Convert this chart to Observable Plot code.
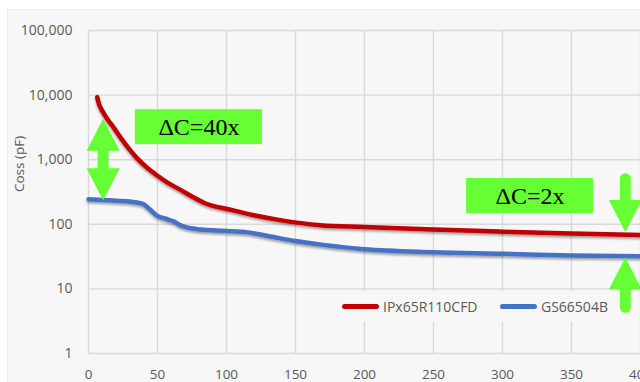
<!DOCTYPE html>
<html><head><meta charset="utf-8">
<script src="https://cdn.jsdelivr.net/npm/d3@7"></script>
<script src="https://cdn.jsdelivr.net/npm/@observablehq/plot@0.6"></script>
<style>
body{margin:0;background:#fff;}
#wrap{position:relative;width:640px;height:382px;overflow:hidden;background:#fff;}
#panel{position:absolute;left:7px;top:9px;right:0;bottom:0;background:#f7f7f7;border-left:1px solid #ececec;border-top:1px solid #efefef;}
#chart{position:absolute;left:0;top:0;}
#legend{position:absolute;left:334px;top:291px;width:282px;height:31px;background:#f7f7f7;}
.item{position:absolute;top:0;height:31px;display:flex;align-items:center;font:14px "Open Sans";color:#595959;white-space:nowrap;}
.sw{display:inline-block;width:37px;height:5px;border-radius:3px;margin-right:4px;}
</style></head>
<body>
<div id="wrap"><div id="panel"></div><div id="chart"></div>
<div id="legend">
  <div class="item" style="left:8px"><span class="sw" style="background:#c00000"></span>IPx65R110CFD</div>
  <div class="item" style="left:166px"><span class="sw" style="background:#4472c4"></span>GS66504B</div>
</div>
</div>
<script>
// ---- data ----
const xTicks = [0, 50, 100, 150, 200, 250, 300, 350, 400];
const yTicks = [1, 10, 100, 1000, 10000, 100000];

const seriesNames = ["IPx65R110CFD", "GS66504B"];
const redX = [6.3, 7.5, 10, 13.5, 18, 23, 30, 36, 42.5, 50, 57, 67, 76, 84, 103, 120, 139, 168, 200, 250, 300, 350, 400];
const redY = [9300, 7400, 5700, 4300, 3200, 2240, 1420, 1010, 750, 565, 445, 338, 262, 214, 168, 138, 116, 97, 91, 83, 77, 72, 68];
const blueX = [0, 10, 20, 30, 36, 40, 45, 50, 56, 62, 66, 70, 81, 100, 115, 130, 150, 170, 200, 250, 300, 350, 400];
const blueY = [245, 238, 232, 225, 216, 205, 166, 135, 122, 110, 98, 91, 83, 79, 75, 66, 55, 48, 41, 37, 35, 33, 32];

// annotations
const boxLabels = ["ΔC=40x", "ΔC=2x"];
const boxX1 = [34, 274];
const boxX2 = [126, 366];
const boxY1 = [1710, 147];
const boxY2 = [5940, 511];

const shaftX = [10.6, 389, 389];
const shaftY1 = [1500, 500, 9.5];
const shaftY2 = [700, 236, 5.1];
const headUpX = [10.6, 389];
const headUpY = [4310, 30.7];
const headDownX = [10.6, 389];
const headDownY = [236, 76];

// ---- build ----
const red = redX.map((x, i) => ({x, y: redY[i]}));
const blue = blueX.map((x, i) => ({x, y: blueY[i]}));
const boxes = boxLabels.map((t, i) => ({t, x1: boxX1[i], x2: boxX2[i], y1: boxY1[i], y2: boxY2[i]}));
const shafts = shaftX.map((x, i) => ({x, y1: shaftY1[i], y2: shaftY2[i]}));
const ups = headUpX.map((x, i) => ({x, y: headUpY[i]}));
const downs = headDownX.map((x, i) => ({x, y: headDownY[i]}));

const W = 33, H = 32;
const arrowUp = {draw(c) { c.moveTo(0, 0); c.lineTo(W / 2, H); c.lineTo(-W / 2, H); c.closePath(); }};
const arrowDown = {draw(c) { c.moveTo(0, 0); c.lineTo(W / 2, -H); c.lineTo(-W / 2, -H); c.closePath(); }};
const GREEN = "#66ff33";

const plot = Plot.plot({
  width: 640, height: 382,
  marginLeft: 88, marginRight: 0, marginTop: 30, marginBottom: 29,
  style: {background: "transparent", fontFamily: "Open Sans", fontSize: "14px", color: "#595959"},
  x: {domain: [0, 400], ticks: xTicks, tickSize: 0, tickPadding: 16, label: null, line: false},
  y: {type: "log", domain: [1, 100000], ticks: yTicks, tickFormat: d3.format(","), tickSize: 0, tickPadding: 16, label: null, line: false},
  marks: [
    Plot.ruleX(xTicks, {stroke: "#d9d9d9", strokeWidth: 1.4}),
    Plot.ruleY(yTicks, {stroke: "#d9d9d9", strokeWidth: 1.4}),
    Plot.line(red, {x: "x", y: "y", stroke: "#c00000", strokeWidth: 4.5, curve: "monotone-x"}),
    Plot.line(blue, {x: "x", y: "y", stroke: "#4472c4", strokeWidth: 4.5, curve: "monotone-x"}),
    Plot.rect(boxes, {x1: "x1", x2: "x2", y1: "y1", y2: "y2", fill: GREEN}),
    Plot.text(boxes, {x: d => (d.x1 + d.x2) / 2, y: d => Math.sqrt(d.y1 * d.y2), text: "t", fontFamily: "Liberation Serif", fontSize: 24, fill: "#000"}),
    Plot.ruleX(shafts, {x: "x", y1: "y1", y2: "y2", stroke: GREEN, strokeWidth: 11, strokeLinecap: "round"}),
    Plot.dot(ups, {x: "x", y: "y", symbol: arrowUp, fill: GREEN, stroke: "none"}),
    Plot.dot(downs, {x: "x", y: "y", symbol: arrowDown, fill: GREEN, stroke: "none"}),
    Plot.text(["Coss (pF)"], {frameAnchor: "left", rotate: -90, dx: -69, fontSize: 13.5, fill: "#595959"})
  ]
});

// smaller bottom labels so they stay inside the frame
plot.querySelectorAll('g[aria-label="x-axis"] text, g[aria-label="x-axis tick label"] text').forEach(t => t.setAttribute("font-size", "13.5"));

// soft shadow under the series lines
const ns = "http://www.w3.org/2000/svg";
const defs = document.createElementNS(ns, "defs");
defs.innerHTML = '<filter id="sh" x="-5%" y="-20%" width="110%" height="140%"><feDropShadow dx="0" dy="2" stdDeviation="1.3" flood-color="#000" flood-opacity="0.35"/></filter>';
plot.insertBefore(defs, plot.firstChild);
plot.querySelectorAll('g[aria-label="line"]').forEach(g => g.setAttribute("filter", "url(#sh)"));

document.getElementById("chart").appendChild(plot);
</script>
</body></html>
